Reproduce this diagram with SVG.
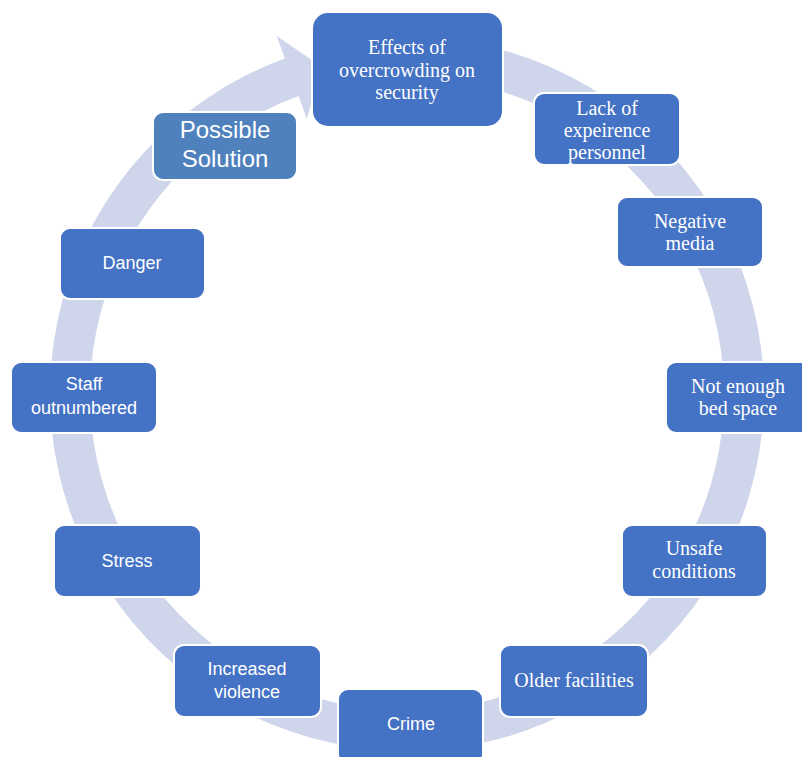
<svg xmlns="http://www.w3.org/2000/svg" width="802" height="757" viewBox="0 0 802 757">
<style>
.box{fill:#4472C4;stroke:#FFFFFF;stroke-width:2}
.box2{fill:#4F81BD;stroke:#FFFFFF;stroke-width:2}
.ring{fill:#CFD5EA}
.serif{font-family:"Liberation Serif","Times New Roman",serif;font-size:20px;fill:#FFFFFF;text-anchor:middle}
.sans{font-family:"Liberation Sans",Arial,sans-serif;font-size:18px;fill:#FFFFFF;text-anchor:middle}
.big{font-family:"Liberation Sans",Arial,sans-serif;font-size:24px;fill:#FFFFFF;text-anchor:middle}
</style>
<rect width="802" height="757" fill="#FFFFFF"/>
<g id="connectors">
<path class="ring" d="M469.0,42.4 A357,357 0 1 1 284.9,58.5 L276.7,36.0 L322,67 L306.8,118.7 L298.6,96.1 A317,317 0 1 0 462.05,81.8 Z"/>
</g>
<g id="n-effects"><rect class="box" x="312" y="12" width="191" height="115" rx="16"/>
<text class="serif" x="407" y="54">Effects of</text><text class="serif" x="407" y="77">overcrowding on</text><text class="serif" x="407" y="99">security</text></g>
<g id="n-lack"><rect class="box" x="534" y="93" width="146" height="72" rx="10"/>
<text class="serif" x="607" y="115">Lack of</text><text class="serif" x="607" y="137">expeirence</text><text class="serif" x="607" y="159">personnel</text></g>
<g id="n-media"><rect class="box" x="617" y="197" width="146" height="70" rx="10"/>
<text class="serif" x="690" y="228">Negative</text><text class="serif" x="690" y="250">media</text></g>
<g id="n-bed"><rect class="box" x="666" y="362" width="146" height="71" rx="10"/>
<text class="serif" x="738" y="393">Not enough</text><text class="serif" x="738" y="415">bed space</text></g>
<g id="n-unsafe"><rect class="box" x="622" y="525" width="145" height="72" rx="10"/>
<text class="serif" x="694" y="555">Unsafe</text><text class="serif" x="694" y="578">conditions</text></g>
<g id="n-older"><rect class="box" x="500" y="645" width="148" height="72" rx="10"/>
<text class="serif" x="574" y="687">Older facilities</text></g>
<g id="n-crime"><rect class="box" x="338" y="689" width="145" height="75" rx="10"/>
<text class="sans" x="411" y="730">Crime</text></g>
<g id="n-violence"><rect class="box" x="174" y="645" width="147" height="72" rx="10"/>
<text class="sans" x="247" y="675">Increased</text><text class="sans" x="247" y="698">violence</text></g>
<g id="n-stress"><rect class="box" x="54" y="525" width="147" height="72" rx="10"/>
<text class="sans" x="127" y="567">Stress</text></g>
<g id="n-staff"><rect class="box" x="11" y="362" width="146" height="71" rx="10"/>
<text class="sans" x="84" y="390">Staff</text><text class="sans" x="84" y="414">outnumbered</text></g>
<g id="n-danger"><rect class="box" x="60" y="228" width="145" height="71" rx="10"/>
<text class="sans" x="132" y="269">Danger</text></g>
<g id="n-solution"><rect class="box2" x="153" y="112" width="144" height="68" rx="10"/>
<text class="big" x="225" y="138">Possible</text><text class="big" x="225" y="167">Solution</text></g>
</svg>
